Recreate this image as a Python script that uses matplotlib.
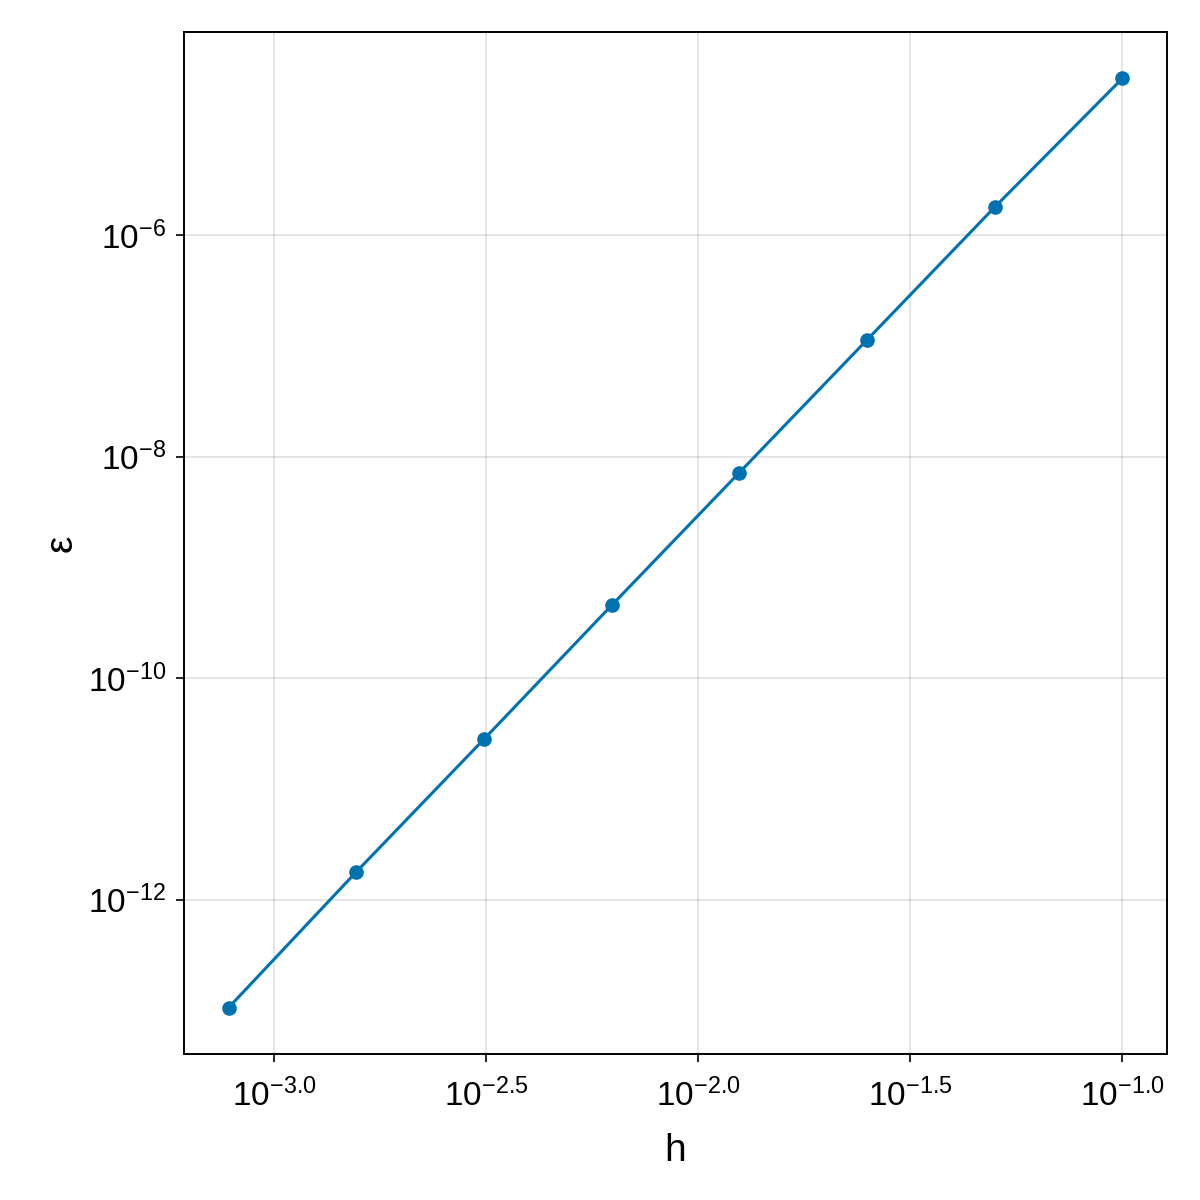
import numpy as np
import matplotlib
matplotlib.use("Agg")
import matplotlib.pyplot as plt
from matplotlib.ticker import FixedLocator, FuncFormatter

plt.rcParams['font.family'] = ['Liberation Sans', 'DejaVu Sans']
plt.rcParams['mathtext.fontset'] = 'custom'
plt.rcParams['mathtext.rm'] = 'Liberation Sans'
plt.rcParams['mathtext.it'] = 'Liberation Sans:italic'

# step sizes and errors
h = [0.1, 0.05, 0.025, 0.0125, 0.00625, 0.003125, 0.0015625, 0.00078125]
log_err = [-4.586, -5.748, -6.946, -8.144, -9.342, -10.55, -11.748, -12.973]
err = [10 ** v for v in log_err]

x_ticks = [-3.0, -2.5, -2.0, -1.5, -1.0]
y_ticks = [-12, -10, -8, -6]

color = '#0072B2'

fig = plt.figure(figsize=(12, 12), dpi=100)
ax = fig.add_axes([184 / 1200, 1 - 1054 / 1200, (1167 - 184) / 1200, (1054 - 32) / 1200])
ax.set_xscale('log')
ax.set_yscale('log')

ax.plot(h, err, color=color, lw=2.2, marker='o', ms=9.5, mec=color, mfc=color, zorder=3)

lx = np.log10(h)
ly = np.array(log_err)
mx = 0.05 * (lx.max() - lx.min())
my = 0.05 * (ly.max() - ly.min())
ax.set_xlim(10 ** (lx.min() - mx), 10 ** (lx.max() + mx))
ax.set_ylim(10 ** (ly.min() - my), 10 ** (ly.max() + my))

ax.xaxis.set_major_locator(FixedLocator([10 ** t for t in x_ticks]))
ax.xaxis.set_minor_locator(FixedLocator([]))
ax.yaxis.set_major_locator(FixedLocator([10 ** t for t in y_ticks]))
ax.yaxis.set_minor_locator(FixedLocator([]))
ax.xaxis.set_major_formatter(FuncFormatter(lambda v, p: r'$10^{%.1f}$' % np.log10(v)))
ax.yaxis.set_major_formatter(FuncFormatter(lambda v, p: r'$10^{%d}$' % round(np.log10(v))))

ax.grid(True, color='black', alpha=0.12, lw=1.2)
ax.set_axisbelow(True)
ax.tick_params(axis='both', which='major', direction='out', length=6, width=1.2,
               labelsize=24, pad=7)
ax.tick_params(axis='x', pad=12)
for s in ax.spines.values():
    s.set_linewidth(1.4)

ax.set_xlabel('h', fontsize=28, labelpad=14)
ax.set_ylabel('ε', fontsize=28, labelpad=6)

fig.savefig('out.png', dpi=100, facecolor='white')
